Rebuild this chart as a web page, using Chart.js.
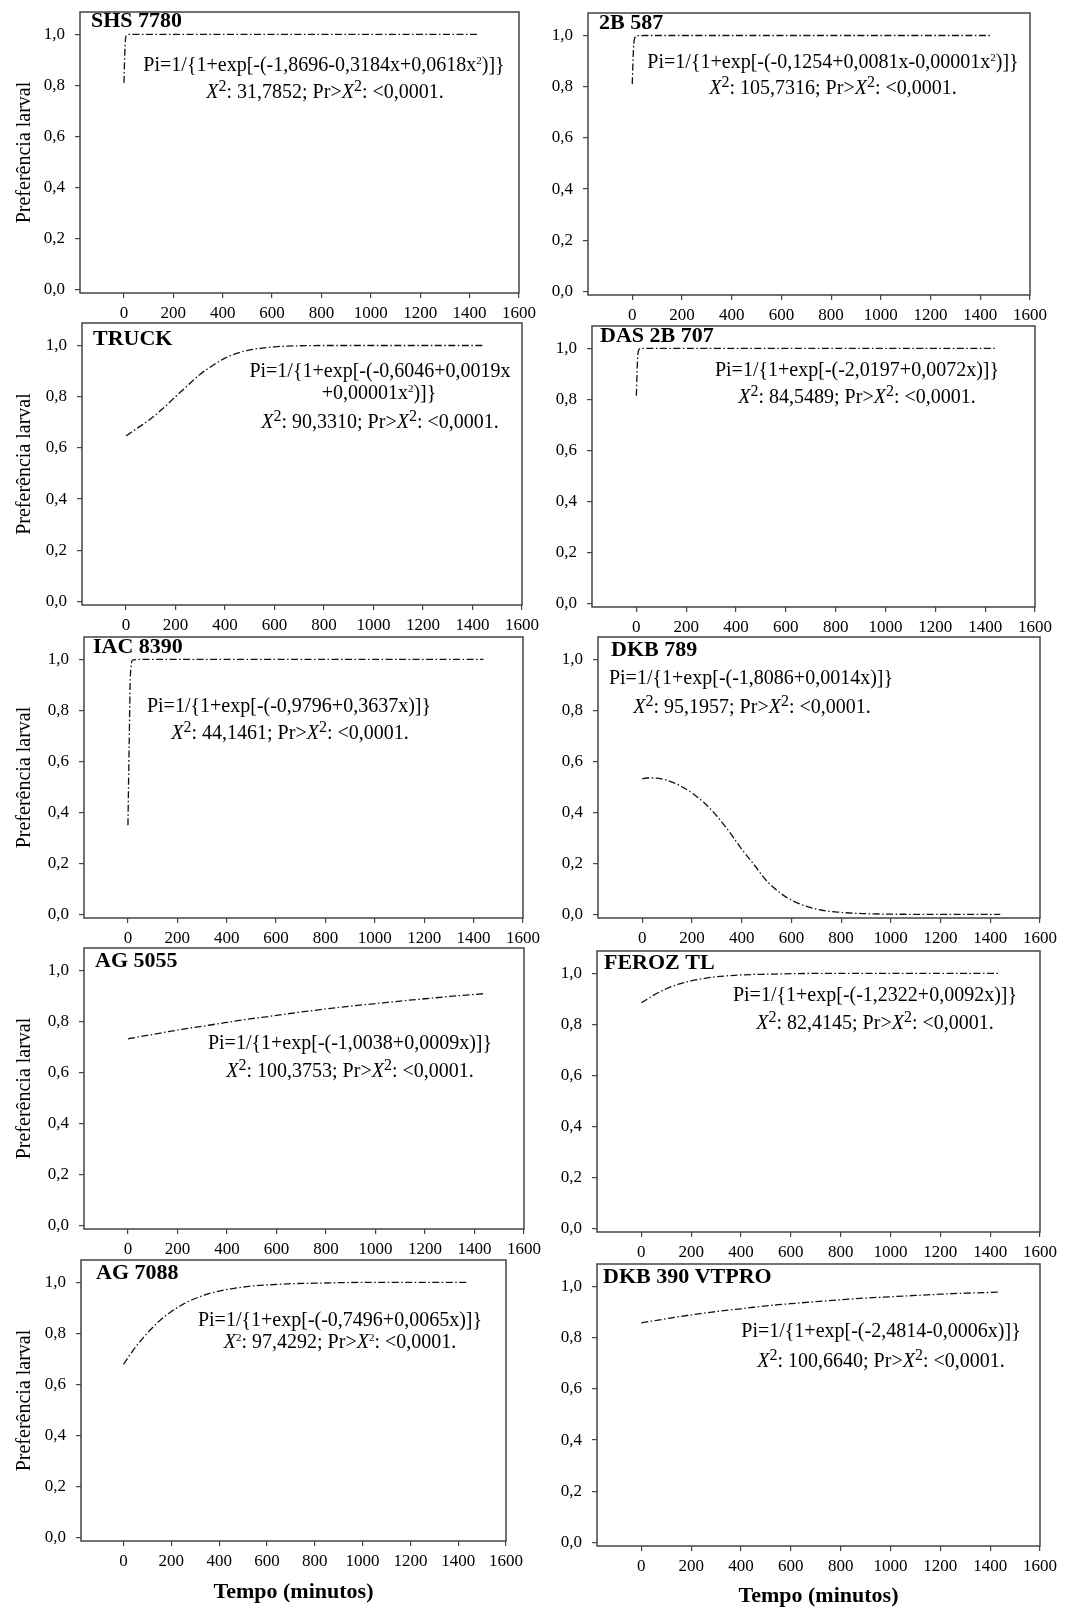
<!DOCTYPE html>
<html>
<head>
<meta charset="utf-8">
<script src="https://cdn.jsdelivr.net/npm/chart.js@4.4.1/dist/chart.umd.min.js"></script>
<style>
  html, body { margin: 0; padding: 0; background: #fff; }
  body { width: 1076px; height: 1607px; position: relative; overflow: hidden; }
  canvas { position: absolute; }
</style>
</head>
<body>
<script>
// tempo (minutos) e preferência larval lida em cada curva
const tempo = [0, 5, 10, 20, 50, 100, 150, 200, 250, 300, 350, 400, 450, 500, 550, 600, 700, 800, 900, 1000, 1100, 1200, 1300, 1440];

const shs7780 = [0.81, 0.965, 0.996, 1.0, 1.0, 1.0, 1.0, 1.0, 1.0, 1.0, 1.0, 1.0, 1.0, 1.0, 1.0, 1.0, 1.0, 1.0, 1.0, 1.0, 1.0, 1.0, 1.0, 1.0];
const b2587 = [0.81, 0.95, 0.99, 0.999, 1.0, 1.0, 1.0, 1.0, 1.0, 1.0, 1.0, 1.0, 1.0, 1.0, 1.0, 1.0, 1.0, 1.0, 1.0, 1.0, 1.0, 1.0, 1.0, 1.0];
const truck = [0.648, 0.650, 0.653, 0.660, 0.680, 0.714, 0.755, 0.800, 0.845, 0.888, 0.922, 0.951, 0.970, 0.983, 0.990, 0.995, 0.999, 1.0, 1.0, 1.0, 1.0, 1.0, 1.0, 1.0];
const das2b707 = [0.815, 0.96, 0.995, 1.0, 1.0, 1.0, 1.0, 1.0, 1.0, 1.0, 1.0, 1.0, 1.0, 1.0, 1.0, 1.0, 1.0, 1.0, 1.0, 1.0, 1.0, 1.0, 1.0, 1.0];
const iac8390 = [0.35, 0.67, 0.94, 0.998, 1.0, 1.0, 1.0, 1.0, 1.0, 1.0, 1.0, 1.0, 1.0, 1.0, 1.0, 1.0, 1.0, 1.0, 1.0, 1.0, 1.0, 1.0, 1.0, 1.0];
const dkb789 = [0.532, 0.533, 0.534, 0.535, 0.535, 0.526, 0.506, 0.476, 0.437, 0.386, 0.324, 0.256, 0.195, 0.132, 0.088, 0.056, 0.021, 0.008, 0.003, 0.001, 0.0005, 0.0002, 0.0001, 0.0];
const ag5055 = [0.732, 0.733, 0.734, 0.735, 0.741, 0.749, 0.758, 0.766, 0.774, 0.781, 0.789, 0.796, 0.804, 0.811, 0.817, 0.824, 0.837, 0.849, 0.860, 0.870, 0.880, 0.889, 0.898, 0.909];
const feroztl = [0.885, 0.888, 0.891, 0.897, 0.915, 0.940, 0.958, 0.971, 0.980, 0.987, 0.991, 0.994, 0.996, 0.997, 0.998, 0.999, 1.0, 1.0, 1.0, 1.0, 1.0, 1.0, 1.0, 1.0];
const ag7088 = [0.679, 0.686, 0.693, 0.707, 0.746, 0.802, 0.849, 0.886, 0.915, 0.937, 0.954, 0.966, 0.975, 0.982, 0.987, 0.990, 0.995, 0.997, 0.999, 1.0, 1.0, 1.0, 1.0, 1.0];
const dkb390 = [0.858, 0.859, 0.860, 0.862, 0.866, 0.874, 0.882, 0.889, 0.896, 0.902, 0.908, 0.913, 0.919, 0.924, 0.929, 0.933, 0.941, 0.948, 0.955, 0.960, 0.965, 0.970, 0.974, 0.978];

const xTicks = [0, 200, 400, 600, 800, 1000, 1200, 1400, 1600];
const yTicks = [0, 0.2, 0.4, 0.6, 0.8, 1.0];

const SERIF = '"Liberation Serif", "Times New Roman", serif';
const TAM_EQ = 20;

// linhas da equação: [texto, estilo]  n=normal, i=itálico, s=sobrescrito pequeno, S=sobrescrito grande
function qui(valor, sup) {
    return [['X', 'i'], ['2', sup], [': ' + valor + '; Pr>', 'n'], ['X', 'i'], ['2', sup], [': <0,0001.', 'n']];
}

const paineis = [
    { nome: 'SHS 7780', valores: shs7780, col: 0, box: [80, 12, 519, 293], titulo: [11, 15],
      eq: [{ cx: 244, by: 59, segs: [['Pi=1/{1+exp[-(-1,8696-0,3184x+0,0618x', 'n'], ['2', 's'], [')]}', 'n']] },
           { cx: 245, by: 86, segs: qui('31,7852', 'S') }] },
    { nome: '2B 587', valores: b2587, col: 1, box: [588, 13, 1030, 295], titulo: [11, 16],
      eq: [{ cx: 245, by: 55, segs: [['Pi=1/{1+exp[-(-0,1254+0,0081x-0,00001x', 'n'], ['2', 's'], [')]}', 'n']] },
           { cx: 245, by: 81, segs: qui('105,7316', 'S') }] },
    { nome: 'TRUCK', valores: truck, col: 0, box: [82, 323, 522, 605], titulo: [11, 22],
      eq: [{ cx: 298, by: 54, segs: [['Pi=1/{1+exp[-(-0,6046+0,0019x', 'n']] },
           { cx: 297, by: 76, segs: [['+0,00001x', 'n'], ['2', 's'], [')]}', 'n']] },
           { cx: 298, by: 105, segs: qui('90,3310', 'S') }] },
    { nome: 'DAS 2B 707', valores: das2b707, col: 1, box: [592, 326, 1035, 607], titulo: [8, 16],
      eq: [{ cx: 265, by: 50, segs: [['Pi=1/{1+exp[-(-2,0197+0,0072x)]}', 'n']] },
           { cx: 265, by: 77, segs: qui('84,5489', 'S') }] },
    { nome: 'IAC 8390', valores: iac8390, col: 0, box: [84, 637, 523, 918], titulo: [9, 16],
      eq: [{ cx: 205, by: 75, segs: [['Pi=1/{1+exp[-(-0,9796+0,3637x)]}', 'n']] },
           { cx: 206, by: 102, segs: qui('44,1461', 'S') }] },
    { nome: 'DKB 789', valores: dkb789, col: 1, box: [598, 637, 1040, 918], titulo: [13, 19],
      eq: [{ cx: 153, by: 47, segs: [['Pi=1/{1+exp[-(-1,8086+0,0014x)]}', 'n']] },
           { cx: 154, by: 76, segs: qui('95,1957', 'S') }] },
    { nome: 'AG 5055', valores: ag5055, col: 0, box: [84, 948, 524, 1229], titulo: [11, 19],
      eq: [{ cx: 266, by: 101, segs: [['Pi=1/{1+exp[-(-1,0038+0,0009x)]}', 'n']] },
           { cx: 266, by: 129, segs: qui('100,3753', 'S') }] },
    { nome: 'FEROZ TL', valores: feroztl, col: 1, box: [597, 951, 1040, 1232], titulo: [7, 18],
      eq: [{ cx: 278, by: 50, segs: [['Pi=1/{1+exp[-(-1,2322+0,0092x)]}', 'n']] },
           { cx: 278, by: 78, segs: qui('82,4145', 'S') }] },
    { nome: 'AG 7088', valores: ag7088, col: 0, box: [81, 1260, 506, 1541], titulo: [15, 19], tempoY: 1593,
      eq: [{ cx: 259, by: 66, segs: [['Pi=1/{1+exp[-(-0,7496+0,0065x)]}', 'n']] },
           { cx: 259, by: 88, segs: qui('97,4292', 's') }] },
    { nome: 'DKB 390 VTPRO', valores: dkb390, col: 1, box: [597, 1264, 1040, 1546], titulo: [6, 19], tempoY: 1597,
      eq: [{ cx: 284, by: 73, segs: [['Pi=1/{1+exp[-(-2,4814-0,0006x)]}', 'n']] },
           { cx: 284, by: 103, segs: qui('100,6640', 'S') }] }
];

function estilo(st) {
    if (st === 'i') return { font: 'italic ' + TAM_EQ + 'px ' + SERIF, dy: 0 };
    if (st === 's') return { font: Math.round(TAM_EQ * 0.55) + 'px ' + SERIF, dy: -7 };
    if (st === 'S') return { font: Math.round(TAM_EQ * 0.8) + 'px ' + SERIF, dy: -7 };
    return { font: TAM_EQ + 'px ' + SERIF, dy: 0 };
}

function linhaRica(ctx, segs, cx, by) {
    let w = 0;
    segs.forEach(([t, st]) => { ctx.font = estilo(st).font; w += ctx.measureText(t).width; });
    let x = cx - w / 2;
    segs.forEach(([t, st]) => {
        const e = estilo(st);
        ctx.font = e.font;
        ctx.fillText(t, x, by + e.dy);
        x += ctx.measureText(t).width;
    });
}

function moldura(p) {
    return {
        id: 'moldura',
        afterDraw(chart) {
            const ctx = chart.ctx;
            const a = chart.chartArea;
            ctx.save();
            ctx.strokeStyle = '#444';
            ctx.lineWidth = 1.5;
            ctx.strokeRect(a.left, a.top, a.right - a.left, a.bottom - a.top);
            ctx.fillStyle = '#000';
            ctx.textAlign = 'left';
            ctx.textBaseline = 'alphabetic';
            ctx.font = 'bold 22px ' + SERIF;
            ctx.fillText(p.nome, a.left + p.titulo[0], a.top + p.titulo[1]);
            p.eq.forEach(l => linhaRica(ctx, l.segs, a.left + l.cx, a.top + l.by));
            ctx.restore();
        }
    };
}

Chart.defaults.font.family = SERIF;
Chart.defaults.color = '#000';

function painel(p) {
    const [l, t, r, b] = p.box;
    const x0 = p.col === 0 ? 0 : 540;
    const alturaX = p.tempoY ? Math.round(p.tempoY + 13.2 - b) : 40;
    const canvas = document.createElement('canvas');
    canvas.width = r - x0 + 30;
    canvas.height = (b - t) + 12 + alturaX;
    canvas.style.left = x0 + 'px';
    canvas.style.top = (t - 12) + 'px';
    document.body.appendChild(canvas);

    new Chart(canvas.getContext('2d'), {
        type: 'line',
        data: {
            datasets: [{
                data: tempo.map((v, k) => ({ x: v, y: p.valores[k] })),
                borderColor: '#111',
                borderWidth: 1.3,
                borderDash: [7, 2.5, 1.5, 2.5],
                pointRadius: 0,
                fill: false,
                cubicInterpolationMode: 'monotone'
            }]
        },
        options: {
            responsive: false,
            animation: false,
            events: [],
            layout: { padding: { top: 12, right: 30, left: 0, bottom: 0 } },
            plugins: {
                legend: { display: false },
                tooltip: { enabled: false }
            },
            scales: {
                x: {
                    type: 'linear',
                    min: -178,
                    max: 1600,
                    afterBuildTicks: s => { s.ticks = xTicks.map(v => ({ value: v })); },
                    afterFit: s => { s.height = alturaX; s.paddingLeft = 0; s.paddingRight = 0; },
                    ticks: {
                        font: { size: 17 },
                        color: '#000',
                        padding: 5,
                        maxRotation: 0,
                        autoSkip: false,
                        callback: v => String(v)
                    },
                    grid: { drawOnChartArea: false, tickLength: 5, color: '#444', lineWidth: 1.2 },
                    border: { display: false },
                    title: {
                        display: !!p.tempoY,
                        text: 'Tempo (minutos)',
                        font: { size: 22, weight: 'bold' },
                        color: '#000',
                        padding: 0
                    }
                },
                y: {
                    min: -0.014,
                    max: 1.088,
                    afterBuildTicks: s => { s.ticks = yTicks.map(v => ({ value: v })); },
                    afterFit: s => { s.width = l - x0; s.paddingTop = 0; s.paddingBottom = 0; },
                    ticks: {
                        font: { size: 17 },
                        color: '#000',
                        padding: 10,
                        autoSkip: false,
                        callback: v => v.toFixed(1).replace('.', ',')
                    },
                    grid: { drawOnChartArea: false, tickLength: 5, color: '#444', lineWidth: 1.2 },
                    border: { display: false },
                    title: {
                        display: p.col === 0,
                        text: 'Preferência larval',
                        font: { size: 20 },
                        color: '#000',
                        padding: { top: 13, bottom: 0 }
                    }
                }
            }
        },
        plugins: [moldura(p)]
    });
}

window.onload = function() {
    paineis.forEach(painel);
};
</script>
</body>
</html>
